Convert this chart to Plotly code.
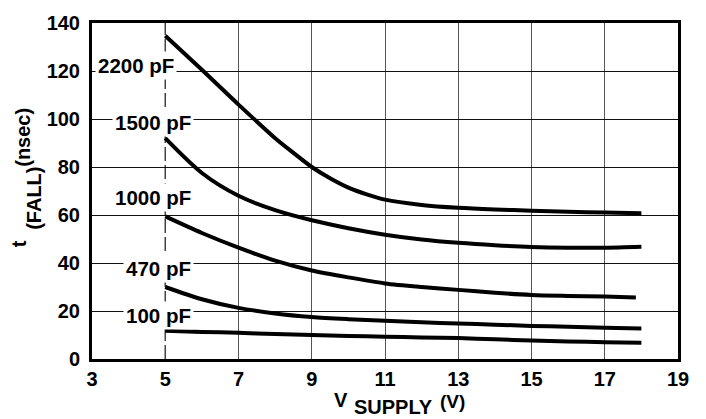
import plotly.graph_objects as go

# ---- data ----
v_supply = [5, 6, 7, 8, 9, 10, 11, 12, 13, 14, 15, 16, 17, 18]
v_supply_2200 = [5, 6, 7, 8, 8.5, 9, 9.5, 10, 10.5, 11, 12, 13, 14, 15, 16, 17, 18]
v_supply_1000 = [5, 6, 7, 8, 9, 10, 11, 12, 13, 14, 15, 16, 17, 17.85]
t_2200 = [134.7, 120.5, 106.0, 92.0, 85.9, 80.0, 75.3, 71.4, 68.6, 66.4, 64.2, 63.0, 62.3, 61.8, 61.4, 61.0, 60.7]
t_1500 = [92.0, 77.5, 68.0, 62.0, 57.8, 54.5, 51.8, 49.8, 48.4, 47.4, 46.7, 46.4, 46.4, 46.8]
t_1000 = [59.4, 52.5, 46.4, 41.0, 36.9, 34.0, 31.5, 30.0, 28.8, 27.6, 26.7, 26.3, 26.0, 25.6]
t_470 = [30.0, 24.9, 21.3, 19.0, 17.5, 16.6, 15.9, 15.3, 14.8, 14.3, 13.8, 13.4, 13.0, 12.7]
t_100 = [11.8, 11.3, 10.9, 10.4, 10.0, 9.6, 9.3, 9.0, 8.7, 8.2, 7.7, 7.3, 7.0, 6.8]

series_names = ["2200 pF", "1500 pF", "1000 pF", "470 pF", "100 pF"]
label_x = [5.32, 5.79, 5.79, 5.79, 5.79]
label_y = [122.5, 98.5, 67.5, 37.6, 18.2]

x_ticks = [3, 5, 7, 9, 11, 13, 15, 17, 19]
x_grid = [7, 9, 11, 13, 15, 17]
y_ticks = [0, 20, 40, 60, 80, 100, 120, 140]
ref_x = 5

FONT = "Liberation Sans, Arial, Helvetica, sans-serif"

fig = go.Figure()
xs = [v_supply_2200, v_supply, v_supply_1000, v_supply, v_supply]
ys = [t_2200, t_1500, t_1000, t_470, t_100]
for name, x, y in zip(series_names, xs, ys):
    fig.add_trace(go.Scatter(
        x=x, y=y, mode="lines", name=name, showlegend=False,
        line=dict(color="black", width=4, shape="spline", smoothing=0.8),
        hoverinfo="skip"))

# dashed reference line at 5 V
fig.add_shape(type="line", xref="x", yref="y", x0=ref_x, x1=ref_x, y0=0, y1=140,
              line=dict(color="#444444", width=1.5, dash="14px,4px"), layer="below")

for name, lx, ly in zip(series_names, label_x, label_y):
    fig.add_annotation(x=lx, y=ly, xref="x", yref="y", text=name, showarrow=False,
                       xanchor="right", yanchor="middle", bgcolor="white", borderpad=2,
                       font=dict(family=FONT, size=20.5, color="black", weight="bold"))

L, R, T, B = 92, 28, 15, 60
W, H = 706, 419
pw, ph = W - L - R, H - T - B

def px(xp):
    return (xp - L) / pw

def py(yp):
    return (H - B - yp) / ph

tfont = dict(family=FONT, size=20, color="black", weight="bold")
# x axis title pieces
fig.add_annotation(x=px(341), y=py(401), xref="paper", yref="paper", text="V", showarrow=False,
                   xanchor="center", yanchor="middle", font=tfont, borderpad=0)
fig.add_annotation(x=px(393), y=py(408), xref="paper", yref="paper", text="SUPPLY", showarrow=False,
                   xanchor="center", yanchor="middle", font=tfont, borderpad=0)
fig.add_annotation(x=px(452), y=py(403), xref="paper", yref="paper", text="(V)", showarrow=False,
                   xanchor="center", yanchor="middle", borderpad=0,
                   font=dict(family=FONT, size=19, color="black", weight="bold"))
# y axis title pieces
fig.add_annotation(x=px(18.5), y=py(241), xref="paper", yref="paper", text="t", showarrow=False,
                   textangle=-90, xanchor="center", yanchor="middle", font=tfont, borderpad=0)
fig.add_annotation(x=px(34), y=py(195), xref="paper", yref="paper", text="(FALL)", showarrow=False,
                   textangle=-90, xanchor="center", yanchor="middle", font=tfont, borderpad=0)
fig.add_annotation(x=px(23), y=py(132.5), xref="paper", yref="paper", text="(nsec)", showarrow=False,
                   textangle=-90, xanchor="center", yanchor="middle", font=tfont, borderpad=0)

fig.update_layout(
    width=W, height=H, autosize=False,
    margin=dict(l=L, r=R, t=T, b=B, pad=0),
    paper_bgcolor="white", plot_bgcolor="white",
    font=dict(family=FONT, size=20, color="black", weight="bold"),
    xaxis=dict(range=[3, 19], tickvals=x_ticks, ticktext=[str(v) for v in x_ticks],
               showgrid=False, zeroline=False, showline=True, linecolor="black",
               linewidth=3, mirror=True, ticks="", ticklabelstandoff=0,
               minor=dict(tickvals=x_grid, showgrid=True, gridcolor="#555555", gridwidth=1, ticks=""),
               tickfont=dict(family=FONT, size=20, color="black", weight="bold")),
    yaxis=dict(range=[0, 140], tickvals=y_ticks, showgrid=True, gridcolor="#111111", gridwidth=1,
               zeroline=False, showline=True, linecolor="black", linewidth=3, mirror=True,
               ticks="", ticklabelstandoff=5,
               tickfont=dict(family=FONT, size=20, color="black", weight="bold")),
)

fig.write_html("out.html")
